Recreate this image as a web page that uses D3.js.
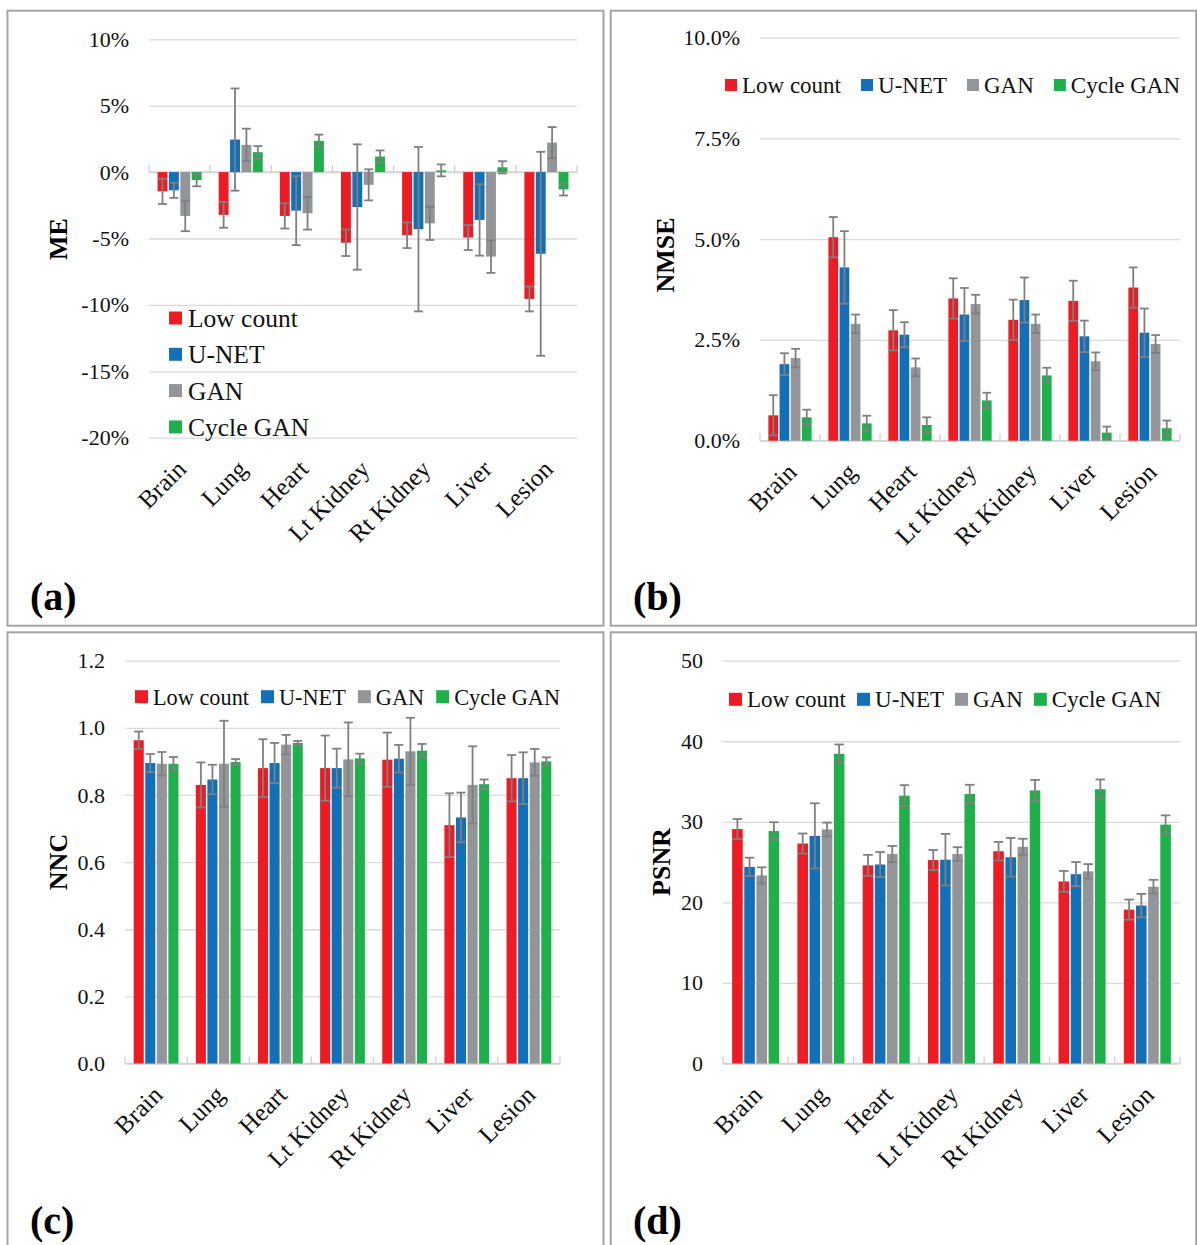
<!DOCTYPE html>
<html>
<head>
<meta charset="utf-8">
<script src="https://cdn.jsdelivr.net/npm/d3@7"></script>
<style>
  html, body { margin: 0; padding: 0; background: #fff; }
  svg { display: block; font-family: "Liberation Serif", "Times New Roman", serif; }
</style>
</head>
<body>
<svg id="fig" width="1197" height="1245"></svg>
<script>
// Organs evaluated and the four reconstruction methods
const categories = ["Brain", "Lung", "Heart", "Lt Kidney", "Rt Kidney", "Liver", "Lesion"];
const seriesNames = ["Low count", "U-NET", "GAN", "Cycle GAN"];
const seriesColors = ["#ED1C24", "#126FB8", "#939598", "#1DB04B"];

// (a) Mean error, %
const meLowCount = [-1.45, -3.22, -3.3, -5.32, -4.75, -4.93, -9.55];
const meLowCountSd = [0.95, 0.97, 0.95, 1.0, 0.97, 0.94, 0.94];
const meUNet = [-1.37, 2.45, -2.9, -2.63, -4.3, -3.6, -6.15];
const meUNetSd = [0.57, 3.85, 2.6, 4.72, 6.19, 2.69, 7.68];
const meGan = [-3.3, 2.05, -3.1, -0.96, -3.86, -6.36, 2.22];
const meGanSd = [1.15, 1.22, 1.23, 1.17, 1.25, 1.23, 1.17];
const meCycleGan = [-0.6, 1.5, 2.35, 1.17, 0.13, 0.36, -1.3];
const meCycleGanSd = [0.47, 0.46, 0.47, 0.46, 0.45, 0.46, 0.46];
const meTicks = [-20, -15, -10, -5, 0, 5, 10];

// (b) Normalized mean squared error, %
const nmseLowCount = [0.63, 5.05, 2.74, 3.53, 3.0, 3.47, 3.8];
const nmseLowCountSd = [0.5, 0.5, 0.5, 0.5, 0.5, 0.5, 0.5];
const nmseUNet = [1.9, 4.3, 2.63, 3.13, 3.49, 2.59, 2.68];
const nmseUNetSd = [0.27, 0.9, 0.31, 0.66, 0.56, 0.39, 0.6];
const nmseGan = [2.05, 2.9, 1.82, 3.39, 2.9, 1.97, 2.4];
const nmseGanSd = [0.23, 0.23, 0.22, 0.23, 0.23, 0.22, 0.22];
const nmseCycleGan = [0.58, 0.43, 0.39, 1.0, 1.62, 0.2, 0.31];
const nmseCycleGanSd = [0.19, 0.19, 0.19, 0.19, 0.19, 0.15, 0.19];
const nmseTicks = [0, 2.5, 5, 7.5, 10];

// (c) Normalized cross-correlation
const nncLowCount = [0.963, 0.83, 0.88, 0.88, 0.905, 0.71, 0.85];
const nncLowCountSd = [0.026, 0.067, 0.086, 0.097, 0.081, 0.095, 0.069];
const nncUNet = [0.895, 0.846, 0.895, 0.88, 0.908, 0.733, 0.85];
const nncUNetSd = [0.027, 0.044, 0.06, 0.058, 0.041, 0.074, 0.077];
const nncGan = [0.893, 0.893, 0.95, 0.906, 0.93, 0.83, 0.897];
const nncGanSd = [0.035, 0.128, 0.029, 0.11, 0.1, 0.115, 0.04];
const nncCycleGan = [0.893, 0.898, 0.955, 0.909, 0.932, 0.832, 0.9];
const nncCycleGanSd = [0.02, 0.009, 0.006, 0.014, 0.02, 0.014, 0.012];
const nncTicks = [0, 0.2, 0.4, 0.6, 0.8, 1.0, 1.2];

// (d) Peak signal-to-noise ratio
const psnrLowCount = [29.1, 27.3, 24.6, 25.25, 26.35, 22.6, 19.1];
const psnrLowCountSd = [1.25, 1.25, 1.3, 1.25, 1.15, 1.3, 1.25];
const psnrUNet = [24.4, 28.25, 24.7, 25.3, 25.6, 23.5, 19.6];
const psnrUNetSd = [1.15, 4.05, 1.55, 3.2, 2.4, 1.5, 1.45];
const psnrGan = [23.35, 29.05, 26.0, 26.0, 26.9, 23.85, 21.95];
const psnrGanSd = [1.0, 0.85, 1.0, 0.85, 1.0, 0.9, 0.85];
const psnrCycleGan = [28.85, 38.45, 33.25, 33.45, 33.9, 34.05, 29.65];
const psnrCycleGanSd = [1.1, 1.15, 1.3, 1.15, 1.3, 1.2, 1.15];
const psnrTicks = [0, 10, 20, 30, 40, 50];

const FONT = "'Liberation Serif', 'Times New Roman', serif";
const svg = d3.select("#fig").attr("font-family", FONT);
svg.append("rect").attr("width", 1197).attr("height", 1245).attr("fill", "#fff");

const panels = [
  {
    means: [meLowCount, meUNet, meGan, meCycleGan],
    sds: [meLowCountSd, meUNetSd, meGanSd, meCycleGanSd],
    ticks: meTicks, domain: [-20, 10],
    fmt: d => (d < 0 ? "-" : "") + Math.abs(d) + "%",
    box: [7.5, 10.7, 596, 615],
    plot: { left: 149, right: 577, top: 39.3, bottom: 437.7 },
    title: "ME", titleX: 58, titleY: 239,
    legend: { type: "vertical", x: 169, y: 318, step: 36.3, size: 13, font: 25.5 },
    tag: "(a)", tagX: 30, tagY: 610
  },
  {
    means: [nmseLowCount, nmseUNet, nmseGan, nmseCycleGan],
    sds: [nmseLowCountSd, nmseUNetSd, nmseGanSd, nmseCycleGanSd],
    ticks: nmseTicks, domain: [0, 10],
    fmt: d => d.toFixed(1) + "%",
    box: [610.7, 10.7, 585.5, 615],
    plot: { left: 760, right: 1180, top: 37.7, bottom: 440.7 },
    title: "NMSE", titleX: 665, titleY: 255,
    legend: { type: "horizontal", x: 725, y: 85, size: 12, font: 23, gap: 20 },
    tag: "(b)", tagX: 633, tagY: 610
  },
  {
    means: [nncLowCount, nncUNet, nncGan, nncCycleGan],
    sds: [nncLowCountSd, nncUNetSd, nncGanSd, nncCycleGanSd],
    ticks: nncTicks, domain: [0, 1.2],
    fmt: d => d.toFixed(1),
    box: [7.5, 632.3, 596, 620],
    plot: { left: 125, right: 560, top: 660.7, bottom: 1063.5 },
    title: "NNC", titleX: 58, titleY: 862,
    legend: { type: "horizontal", x: 135, y: 696.7, size: 13, font: 22.3, gap: 12 },
    tag: "(c)", tagX: 30, tagY: 1234
  },
  {
    means: [psnrLowCount, psnrUNet, psnrGan, psnrCycleGan],
    sds: [psnrLowCountSd, psnrUNetSd, psnrGanSd, psnrCycleGanSd],
    ticks: psnrTicks, domain: [0, 50],
    fmt: d => String(d),
    box: [610.7, 632.3, 585.5, 620],
    plot: { left: 723, right: 1180, top: 660.7, bottom: 1063.5 },
    title: "PSNR", titleX: 661, titleY: 862,
    legend: { type: "horizontal", x: 729, y: 699.3, size: 13, font: 23, gap: 11 },
    tag: "(d)", tagX: 633, tagY: 1234
  }
];

panels.forEach(p => {
  const g = svg.append("g");

  // panel frame
  g.append("rect")
    .attr("x", p.box[0]).attr("y", p.box[1])
    .attr("width", p.box[2]).attr("height", p.box[3])
    .attr("fill", "none").attr("stroke", "#a3a3a3").attr("stroke-width", 2);

  const y = d3.scaleLinear().domain(p.domain).range([p.plot.bottom, p.plot.top]);
  const x0 = d3.scaleBand().domain(categories).range([p.plot.left, p.plot.right]);
  const x1 = d3.scaleBand().domain(seriesNames).range([0, x0.bandwidth()])
    .paddingInner(0.13).paddingOuter(0.75);

  // value axis with gridlines
  const yAxis = d3.axisLeft(y)
    .tickValues(p.ticks)
    .tickFormat(p.fmt)
    .tickSize(-(p.plot.right - p.plot.left))
    .tickPadding(20);
  const ya = g.append("g").attr("transform", `translate(${p.plot.left},0)`).call(yAxis)
    .attr("font-family", FONT).attr("font-size", 22);
  ya.select(".domain").remove();
  ya.selectAll(".tick line").attr("stroke", "#d9d9d9").attr("stroke-width", 1.3);
  ya.selectAll(".tick text").attr("fill", "#111");

  // category axis line at zero, with upward tick marks at category boundaries
  const y0 = y(0);
  g.append("line")
    .attr("x1", p.plot.left).attr("x2", p.plot.right)
    .attr("y1", y0).attr("y2", y0)
    .attr("stroke", "#d0d0d0").attr("stroke-width", 1.5);
  const bounds = categories.map(c => x0(c)).concat([x0.range()[1]]);
  g.selectAll(".ctick").data(bounds).enter().append("line")
    .attr("x1", d => d).attr("x2", d => d)
    .attr("y1", y0).attr("y2", y0 - 7)
    .attr("stroke", "#d0d0d0").attr("stroke-width", 1.3);

  // bars
  seriesNames.forEach((s, si) => {
    const vals = p.means[si];
    const sds = p.sds[si];
    const bw = x1.bandwidth();
    g.selectAll(".bar" + si).data(categories).enter().append("rect")
      .attr("x", (c) => x0(c) + x1(s))
      .attr("width", bw)
      .attr("y", (c, i) => y(Math.max(0, vals[i])))
      .attr("height", (c, i) => Math.abs(y(vals[i]) - y(0)))
      .attr("fill", seriesColors[si]);

    // error bars
    const eg = g.selectAll(".err" + si).data(categories).enter().append("g")
      .attr("stroke", "#7f7f7f").attr("stroke-width", 1.8);
    const cx = c => x0(c) + x1(s) + bw / 2;
    const capHalf = bw * 0.45;
    eg.append("line")
      .attr("x1", cx).attr("x2", cx)
      .attr("y1", (c, i) => y(vals[i] + sds[i]))
      .attr("y2", (c, i) => y(vals[i] - sds[i]));
    eg.append("line")
      .attr("x1", c => cx(c) - capHalf).attr("x2", c => cx(c) + capHalf)
      .attr("y1", (c, i) => y(vals[i] + sds[i]))
      .attr("y2", (c, i) => y(vals[i] + sds[i]));
    eg.append("line")
      .attr("x1", c => cx(c) - capHalf).attr("x2", c => cx(c) + capHalf)
      .attr("y1", (c, i) => y(vals[i] - sds[i]))
      .attr("y2", (c, i) => y(vals[i] - sds[i]));
  });

  // rotated category labels below the plot area
  g.selectAll(".clabel").data(categories).enter().append("text")
    .attr("transform", c => `translate(${x0(c) + x0.bandwidth() / 2 + 8},${p.plot.bottom + 33}) rotate(-45)`)
    .attr("text-anchor", "end")
    .attr("font-size", 25).attr("fill", "#111")
    .text(c => c);

  // value axis title
  g.append("text")
    .attr("transform", `translate(${p.titleX},${p.titleY}) rotate(-90)`)
    .attr("text-anchor", "middle").attr("dy", "0.35em")
    .attr("font-size", 26).attr("font-weight", "bold").attr("fill", "#000")
    .text(p.title);

  // legend
  const L = p.legend;
  if (L.type === "vertical") {
    seriesNames.forEach((s, si) => {
      const cy = L.y + si * L.step;
      g.append("rect").attr("x", L.x).attr("y", cy - L.size / 2)
        .attr("width", L.size).attr("height", L.size).attr("fill", seriesColors[si]);
      g.append("text").attr("x", L.x + L.size + 6).attr("y", cy).attr("dy", "0.35em")
        .attr("font-size", L.font).attr("fill", "#111").text(s);
    });
  } else {
    let lx = L.x;
    seriesNames.forEach((s, si) => {
      g.append("rect").attr("x", lx).attr("y", L.y - L.size / 2)
        .attr("width", L.size).attr("height", L.size).attr("fill", seriesColors[si]);
      const t = g.append("text").attr("x", lx + L.size + 5).attr("y", L.y).attr("dy", "0.35em")
        .attr("font-size", L.font).attr("fill", "#111").text(s);
      lx += L.size + 5 + t.node().getComputedTextLength() + L.gap;
    });
  }

  // panel tag
  g.append("text")
    .attr("x", p.tagX).attr("y", p.tagY)
    .attr("font-size", 40).attr("font-weight", "bold").attr("fill", "#000")
    .text(p.tag);
});
</script>
</body>
</html>
